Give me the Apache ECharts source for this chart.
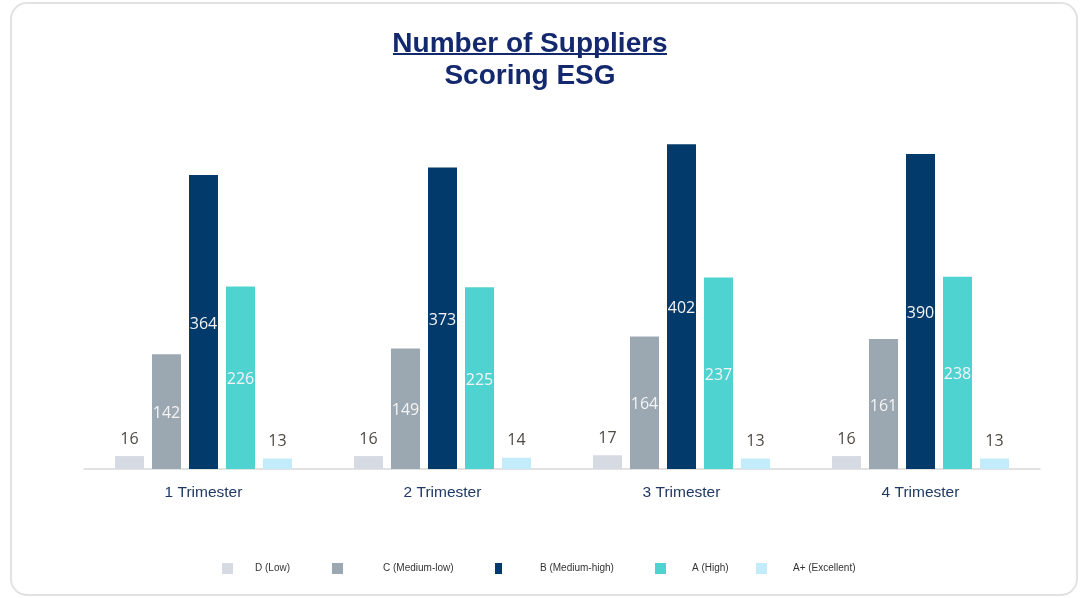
<!DOCTYPE html>
<html>
<head>
<meta charset="utf-8">
<script src="https://cdn.jsdelivr.net/npm/echarts@6/dist/echarts.min.js"></script>
<style>
html,body{margin:0;padding:0;background:#fff;}
#chart{width:1081px;height:598px;}
</style>
</head>
<body>
<div id="chart"></div>
<script>
const categories = ['1 Trimester', '2 Trimester', '3 Trimester', '4 Trimester'];
const seriesNames = ['D (Low)', 'C (Medium-low)', 'B (Medium-high)', 'A (High)', 'A+ (Excellent)'];
const dLow = [16, 16, 17, 16];
const cMediumLow = [142, 149, 164, 161];
const bMediumHigh = [364, 373, 402, 390];
const aHigh = [226, 225, 237, 238];
const aPlusExcellent = [13, 14, 13, 13];

const seriesValues = [dLow, cMediumLow, bMediumHigh, aHigh, aPlusExcellent];
const colors = ['#d5dae3', '#9ba8b2', '#023a6b', '#4fd3d1', '#c3ecfa'];
const labelInside = [false, true, true, true, false];

const chart = echarts.init(document.getElementById('chart'));
const titleColor = '#14286e';

const series = seriesNames.map((name, i) => ({
  name: name,
  type: 'bar',
  data: seriesValues[i],
  barWidth: 29,
  barGap: '27.6%',
  barCategoryGap: '26%',
  itemStyle: { color: colors[i] },
  label: labelInside[i] ? {
    show: true, position: 'inside', offset: [0, 2], color: '#f4f4f4',
    fontFamily: 'Open Sans', fontSize: 16
  } : {
    show: true, position: 'top', distance: 9, color: '#4f4a44',
    fontFamily: 'Open Sans', fontSize: 16
  }
}));

// legend layout: [icon left, icon width, extra text gap]
const legendPos = [[222, 11, 17], [332, 11, 35], [495, 7, 33], [655, 11, 21], [756, 11, 21]];
const legends = seriesNames.map((name, i) => ({
  data: [name],
  left: legendPos[i][0],
  top: 563,
  padding: 0,
  itemWidth: legendPos[i][1],
  itemHeight: 11,
  icon: 'rect',
  textStyle: {
    fontFamily: 'Liberation Sans', fontSize: 10, color: '#333333',
    padding: [0, 0, 8, legendPos[i][2]]
  }
}));

chart.setOption({
  animation: false,
  title: [
    { text: 'Number of Suppliers', left: 525, top: 25, textAlign: 'center',
      textStyle: { fontFamily: 'Liberation Sans', fontWeight: 'bold', fontSize: 28, color: titleColor } },
    { text: 'Scoring ESG', left: 525, top: 57, textAlign: 'center',
      textStyle: { fontFamily: 'Liberation Sans', fontWeight: 'bold', fontSize: 28, color: titleColor } }
  ],
  graphic: [
    { type: 'rect', z: -10, shape: { x: 11, y: 3, width: 1066, height: 592, r: 16 },
      style: { fill: 'none', stroke: '#e2e2e2', lineWidth: 2 } },
    { type: 'line', shape: { x1: 393, y1: 54, x2: 667, y2: 54 },
      style: { stroke: titleColor, lineWidth: 2 } }
  ],
  legend: legends,
  grid: { left: 84, right: 41, top: 65, bottom: 129, containLabel: false },
  xAxis: {
    type: 'category',
    data: categories,
    axisLine: { show: true, lineStyle: { color: '#d9d9d9', width: 1.5 } },
    axisTick: { show: false },
    axisLabel: { fontFamily: 'Liberation Sans', fontSize: 15.5, color: '#1f3864', margin: 16 }
  },
  yAxis: {
    type: 'value',
    min: 0, max: 500,
    show: false,
    splitLine: { show: false }
  },
  series: series
});
</script>
</body>
</html>
